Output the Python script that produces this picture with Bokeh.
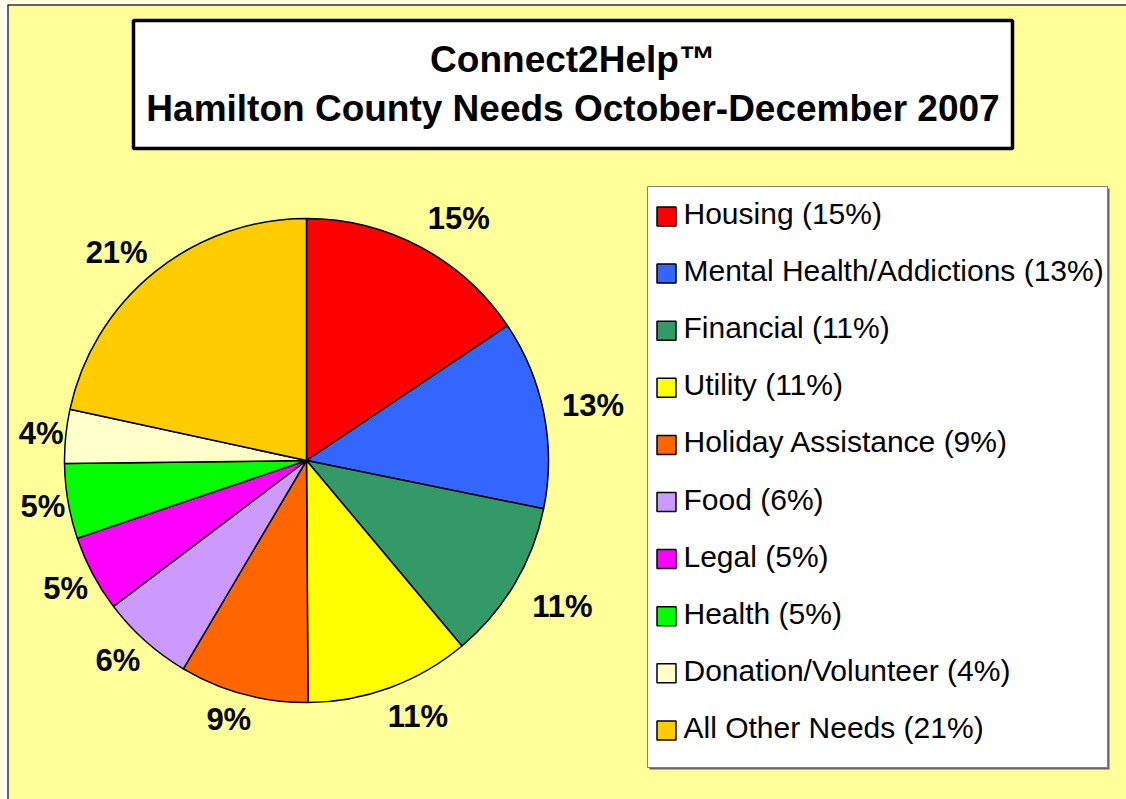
import numpy as np
from bokeh.plotting import figure
from bokeh.models import Range1d, ColumnDataSource
from bokeh.core.properties import value
from bokeh.embed import file_html
from bokeh.resources import INLINE

# ---- data ----
categories = ["Housing", "Mental Health/Addictions", "Financial", "Utility",
              "Holiday Assistance", "Food", "Legal", "Health",
              "Donation/Volunteer", "All Other Needs"]
shares = [15.6, 12.6, 10.7, 11.0, 8.6, 6.2, 5.1, 5.0, 3.6, 21.6]
pct_labels = ["15%", "13%", "11%", "11%", "9%", "6%", "5%", "5%", "4%", "21%"]
colors = ["#FF0000", "#3366FF", "#339966", "#FFFF00", "#FF6600",
          "#CC99FF", "#FF00FF", "#00FF00", "#FFFFCC", "#FFCC00"]
title_lines = ["Connect2Help\u2122", "Hamilton County Needs October-December 2007"]

W, H = 1126, 799
FONT = "Liberation Sans"

p = figure(width=W, height=H, x_range=Range1d(0, W), y_range=Range1d(0, H),
           output_backend="svg", toolbar_location=None, min_border=0)
p.axis.visible = False
p.grid.visible = False
p.outline_line_color = None
p.background_fill_color = "#FFFF99"
p.border_fill_color = "white"

# white page strip left/top, chart-area border
p.quad(left=[0, 0], right=[7, W], top=[H, H], bottom=[0, H - 4],
       fill_color="white", line_color=None)
p.segment(x0=[7.5, 7], y0=[0, H - 4.5], x1=[7.5, W], y1=[H - 4.5, H - 4.5],
          line_color="#333333", line_width=1.5)

# ---- pie ----
cx, cy, R = 306, 339, 242
vals = np.array(shares, dtype=float)
frac = vals / vals.sum()
cum = np.concatenate([[0], np.cumsum(frac)])
ang_start = np.pi / 2 - cum[:-1] * 2 * np.pi   # clockwise from top
ang_end = np.pi / 2 - cum[1:] * 2 * np.pi
mid = (ang_start + ang_end) / 2

src = ColumnDataSource(dict(start=ang_end, end=ang_start, color=colors))
p.wedge(x=cx, y=cy, radius=R, start_angle="start", end_angle="end",
        fill_color="color", line_color="black", line_width=1.5, source=src)

# outside-end label placement: anchor on ray, then shift by label half-size
ux, uy = np.cos(mid), np.sin(mid)
hw = np.array([10.5 * len(t) for t in pct_labels])
hh = 12.0
ra = 252 + 7 * ux + 6 * np.abs(uy)
lx = cx + ra * ux + hw * np.clip(2 * ux, -1, 1)
ly = cy + ra * uy + hh * np.clip(2 * uy, -1, 1)
lab = ColumnDataSource(dict(x=lx, y=ly, t=pct_labels))
p.text(x="x", y="y", text="t", source=lab, text_font=value(FONT),
       text_font_style="bold", text_font_size="31px", text_align="center",
       text_baseline="middle", text_color="black")

# ---- title box ----
p.quad(left=[133], right=[1012], top=[779], bottom=[651],
       fill_color="white", line_color="black", line_width=3.5)
p.text(x=[572.5, 572.5], y=[740, 691], text=title_lines, text_font=value(FONT),
       text_font_style="bold", text_font_size="37px", text_align="center",
       text_baseline="middle", text_color="black")

# ---- legend box ----
lx0, lx1, ly0, ly1 = 647, 1107, 32, 613
p.quad(left=[lx0 + 2], right=[lx1 + 2], top=[ly1 - 2], bottom=[ly0 - 2],
       fill_color="#666666", line_color=None)
p.quad(left=[lx0], right=[lx1], top=[ly1], bottom=[ly0],
       fill_color="white", line_color="#808080", line_width=1)

idx = np.arange(len(categories))
item_y = 586 - idx * 57.1
leg = ColumnDataSource(dict(
    sx=np.full(len(idx), 666.0), sy=item_y - 3, color=colors,
    tx=np.full(len(idx), 683.0), ty=item_y,
    t=[f"{c} ({l})" for c, l in zip(categories, pct_labels)]))
p.rect(x="sx", y="sy", width=19, height=19, fill_color="color",
       line_color="black", line_width=1.5, source=leg)
p.text(x="tx", y="ty", text="t", source=leg, text_font=value(FONT),
       text_font_size="30px", text_align="left", text_baseline="middle",
       text_color="black")

open("out.html", "w").write(file_html(p, INLINE))
